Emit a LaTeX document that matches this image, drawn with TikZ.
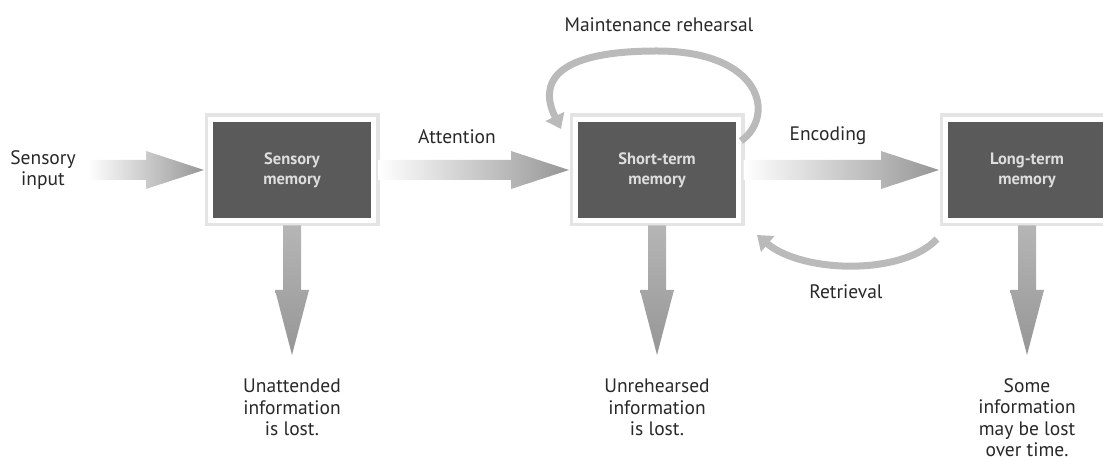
\documentclass[tikz,border=0pt]{standalone}
\usepackage{fontspec}
\setmainfont{PT Sans}
\usetikzlibrary{arrows.meta,positioning,calc}
\definecolor{boxfill}{RGB}{90,90,90}
\definecolor{boxtext}{RGB}{222,222,222}
\definecolor{arrowgray}{RGB}{150,150,150}
\definecolor{curvegray}{RGB}{186,186,186}
\definecolor{textdark}{RGB}{40,40,40}

\begin{document}
\begin{tikzpicture}[x=1pt, y=1pt,
    memory/.style={rectangle, draw=white, line width=5pt, fill=boxfill, minimum width=163pt, minimum height=101pt,
        align=center, text=boxtext, font=\fontsize{16.5}{20}\selectfont\bfseries,
        preaction={draw=black!35, line width=12pt, opacity=0.3}},
    label/.style={font=\fontsize{19.5}{21.5}\selectfont, text=textdark, align=center, inner sep=0pt},
    hfat/.style={left color=white, right color=arrowgray, to path={
        let \p1=(\tikztostart), \p2=(\tikztotarget) in
        (\x1,{\y2+10pt}) -- ({\x2-62pt},{\y2+10pt}) -- ({\x2-62pt},{\y2+19pt}) -- ({\x2-4pt},\y2)
        -- ({\x2-62pt},{\y2-19pt}) -- ({\x2-62pt},{\y2-10pt}) -- (\x1,{\y2-10pt}) -- cycle}},
    vfat/.style={top color=arrowgray!70, bottom color=arrowgray, to path={
        let \p1=(\tikztostart), \p2=(\tikztotarget) in
        ({\x1-9pt},\y1) -- ({\x1-9pt},{\y2+90pt}) -- ({\x1-17pt},{\y2+90pt}) -- (\x1,{\y2+25pt})
        -- ({\x1+17pt},{\y2+90pt}) -- ({\x1+9pt},{\y2+90pt}) -- ({\x1+9pt},\y1) -- cycle}},
    curvearrow/.style={draw=curvegray, line width=7pt, -{Triangle[width=20pt,length=14pt]}}
]
    \useasboundingbox (0,0) rectangle (1103,462);

    % Memory stores
    \node[memory] (sm) at (292,292) {Sensory\\memory};
    \node[memory] (stm) at (657,292) {Short-term\\memory};
    \node[memory] (ltm) at (1027,292) {Long-term\\memory};

    % Labels
    \node[label] (inp) at (43,292) {Sensory\\input};
    \node[label] (att) at (457,325) {Attention};
    \node[label] (enc) at (828,326) {Encoding};
    \node[label] (reh) at (659,437) {Maintenance rehearsal};
    \node[label] (ret) at (846,170) {Retrieval};
    \node[label, anchor=north] (lost1) at (292,83) {Unattended\\information\\is lost.};
    \node[label, anchor=north] (lost2) at (657,83) {Unrehearsed\\information\\is lost.};
    \node[label, anchor=north] (lost3) at (1027,84) {Some\\information\\may be lost\\over time.};

    % Flow arrows
    \shade[hfat] ([xshift=12pt]inp.east) to (sm.west);
    \shade[hfat] ([xshift=2.5pt]sm.east) to (stm.west);
    \shade[hfat] ([xshift=2.5pt]stm.east) to (ltm.west);

    % Forgetting arrows
    \shade[vfat] ([yshift=-2.5pt]sm.south) to ([yshift=-1pt]lost1.north);
    \shade[vfat] ([yshift=-2.5pt]stm.south) to ([yshift=-1pt]lost2.north);
    \shade[vfat] ([yshift=-2.5pt]ltm.south) to ([yshift=-2pt]lost3.north);

    % Rehearsal loop and retrieval
    \draw[curvearrow] ([yshift=-24pt]stm.north east) .. controls +(35,25) and +(105,0) .. ([yshift=66pt]stm.north)
        .. controls +(-105,0) and +(-22,45) .. ([shift={(-12pt,-12pt)}]stm.north west);
    \draw[curvearrow] ([shift={(-6pt,-16pt)}]ltm.south west) .. controls +(-35,-37) and +(45,-38) .. ([shift={(16pt,-12pt)}]stm.south east);
\end{tikzpicture}
\end{document}
